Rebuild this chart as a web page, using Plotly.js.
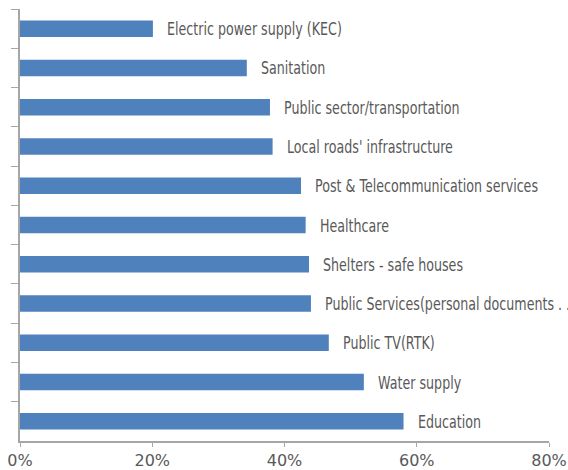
<!DOCTYPE html>
<html><head><meta charset="utf-8">
<script src="https://cdn.plot.ly/plotly-3.0.1.min.js"></script>
<style>html,body{margin:0;padding:0;background:#fff}</style>
</head><body><div id="chart" style="width:568px;height:470px"></div>
<script>
const categories = [
  "Electric power supply (KEC)",
  "Sanitation",
  "Public sector/transportation",
  "Local roads' infrastructure",
  "Post & Telecommunication services",
  "Healthcare",
  "Shelters - safe houses",
  "Public Services(personal documents . . .",
  "Public TV(RTK)",
  "Water supply",
  "Education"
];
const values = [0.201, 0.343, 0.378, 0.382, 0.425, 0.432, 0.437, 0.440, 0.467, 0.520, 0.580];
const tickVals = [0, 0.2, 0.4, 0.6, 0.8];
const tickText = ["0%", "20%", "40%", "60%", "80%"];

const font = '"DejaVu Sans", sans-serif';
const labelSize = 18;
const refLabel = "Post & Telecommunication services";
const refLabelWidth = 223; // condensed label width seen in the reference

// horizontal condensing factor for the labels (reference uses a narrow typeface)
const cv = document.createElement('canvas').getContext('2d');
cv.font = labelSize + 'px ' + font;
const k = refLabelWidth / cv.measureText(refLabel).width;

const trace = {
  type: 'bar', orientation: 'h',
  x: values, y: categories,
  marker: {color: '#4F81BD'},
  hoverinfo: 'none'
};
const annotations = categories.map((c, i) => ({
  x: values[i], y: c, xref: 'x', yref: 'y',
  text: c, showarrow: false, xanchor: 'left', yanchor: 'middle', align: 'left',
  width: Math.ceil(cv.measureText(c).width * k) + 4,
  xshift: 12, font: {family: font, size: labelSize, color: '#595959'}
}));
const layout = {
  width: 568, height: 470,
  margin: {l: 20, r: 19, t: 9, b: 29},
  paper_bgcolor: '#fff', plot_bgcolor: '#fff',
  bargap: 0.58,
  showlegend: false,
  xaxis: {
    range: [0, 0.8], tickvals: tickVals, ticktext: tickText,
    showgrid: false, zeroline: false,
    showline: true, linecolor: '#A6A6A6', linewidth: 2,
    ticks: 'outside', ticklen: 4, tickcolor: '#A6A6A6', tickwidth: 1,
    tickfont: {family: font, size: 16, color: '#595959'}
  },
  yaxis: {
    type: 'category', autorange: 'reversed',
    showticklabels: false, showgrid: false, zeroline: false,
    showline: true, linecolor: '#A6A6A6', linewidth: 2,
    ticks: 'outside', tickson: 'boundaries', ticklen: 7, tickcolor: '#A6A6A6', tickwidth: 1
  },
  annotations: annotations
};
Plotly.newPlot('chart', [trace], layout, {staticPlot: true, displayModeBar: false}).then(() => {
  document.querySelectorAll('#chart .annotation-text').forEach(t => {
    const L = t.getComputedTextLength();
    t.setAttribute('lengthAdjust', 'spacingAndGlyphs');
    t.setAttribute('textLength', (L * k).toFixed(1));
  });
});
</script>
</body></html>
